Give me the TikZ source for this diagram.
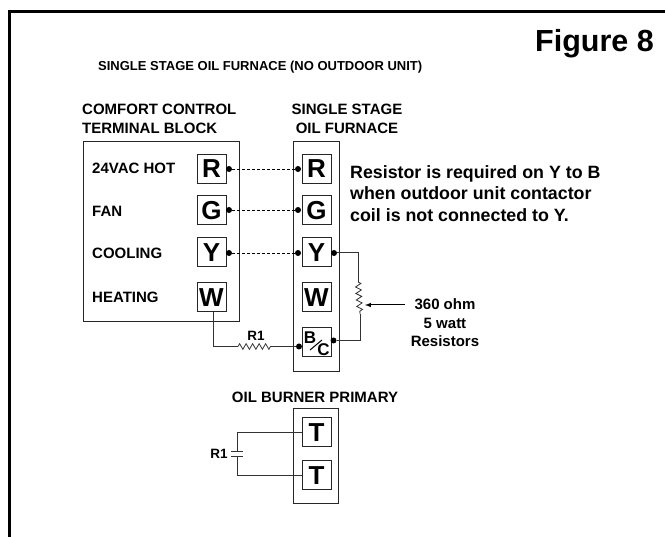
\documentclass[tikz,border=0pt]{standalone}
\usepackage{fontspec}
\setmainfont{Liberation Sans}
\usetikzlibrary{decorations.pathmorphing}
\tikzset{
  boxline/.style={draw=black!85, line width=1pt},
  wire/.style={draw=black!80, line width=1pt},
  jumper/.style={black, line width=0.8pt, densely dashed},
  coil/.style={wire, line width=0.8pt, decorate, decoration={zigzag, amplitude=2.8pt, segment length=6.5pt}},
  terminal/.style={boxline, fill=white, minimum size=29pt, inner sep=0pt, font=\fontsize{26}{26}\selectfont\bfseries},
  lbl/.style={inner sep=0pt, font=\fontsize{15}{18.5}\selectfont\bfseries},
  smallletter/.style={inner sep=0pt, font=\fontsize{17}{17}\selectfont\bfseries},
  dot/.style={circle, fill=black, inner sep=0pt, minimum size=6pt}
}
\begin{document}
\begin{tikzpicture}[x=1pt, y=-1pt]
  \useasboundingbox (0,0) rectangle (665,537);
  % outer frame
  \coordinate (framestart) at (9.5,537);
  \coordinate (framecorner) at (9.5,11.5);
  \coordinate (frameend) at (665,11.5);
  \draw[black, line width=3pt] (framestart) -- (framecorner) -- (frameend);

  % titles
  \node[lbl, anchor=base east, font=\fontsize{30.5}{32}\selectfont\bfseries] (figtitle) at (654,52) {Figure 8};
  \node[lbl, anchor=base west, font=\fontsize{13}{14}\selectfont\bfseries] (subtitle) at (98,70.5) {SINGLE STAGE OIL FURNACE (NO OUTDOOR UNIT)};
  \node[lbl, anchor=north west, align=left] (blocktitle) at (82,104) {COMFORT CONTROL\\TERMINAL BLOCK};
  \node[lbl, anchor=north, align=center] (furnacetitle) at (347,104) {SINGLE STAGE\\OIL FURNACE};

  % terminal block
  \node[boxline, minimum width=156pt, minimum height=180pt, inner sep=0pt] (block) at (161,232) {};
  \node[terminal] (bR) at (211.5,169) {R};
  \node[terminal] (bG) at (211.5,210.5) {G};
  \node[terminal] (bY) at (211.5,252.5) {Y};
  \node[terminal] (bW) at (211.5,297.5) {W};
  \node[lbl, anchor=west] (hot) at (92,168) {24VAC HOT};
  \node[lbl, anchor=west] (fan) at (92,211) {FAN};
  \node[lbl, anchor=west] (cool) at (92,253) {COOLING};
  \node[lbl, anchor=west] (heat) at (92,297) {HEATING};

  % furnace
  \node[boxline, minimum width=46pt, minimum height=230pt, inner sep=0pt] (furnace) at (316,257) {};
  \node[terminal] (fR) at (316.5,169) {R};
  \node[terminal] (fG) at (316.5,210.5) {G};
  \node[terminal] (fY) at (316.5,252.5) {Y};
  \node[terminal] (fW) at (316.5,297.5) {W};
  \node[terminal] (fB) at (316.5,342.5) {};
  \node[smallletter] (letB) at (310,337.5) {B};
  \node[smallletter] (letC) at (323.5,350) {C};
  \coordinate (slasha) at (310,350);
  \coordinate (slashb) at (322,340);
  \draw[black, line width=1pt] (slasha) -- (slashb);

  % dots
  \node[dot] (dR1) at (229,169) {};
  \node[dot] (dR2) at (298,169) {};
  \node[dot] (dG1) at (229,210) {};
  \node[dot] (dG2) at (298,210) {};
  \node[dot] (dY1) at (229,253) {};
  \node[dot] (dY2) at (298,253) {};
  \node[dot] (dY3) at (334,253) {};
  \node[dot] (dB1) at (299,346.5) {};
  \node[dot] (dB2) at (333.5,340.5) {};
  \draw[jumper] (dR1) -- (dR2);
  \draw[jumper] (dG1) -- (dG2);
  \draw[jumper] (dY1) -- (dY2);

  % resistor across Y and B
  \coordinate (rtop) at (358,282);
  \coordinate (rbot) at (360,314);
  \coordinate (rmid) at (365,305);
  \draw[wire] (dY3) -| (rtop);
  \draw[coil] (rtop) -- (rbot);
  \draw[wire] (rbot) |- (dB2);
  \node[lbl, align=center] (resistors) at (445,323) {360 ohm\\5 watt\\Resistors};
  \coordinate (arrowstart) at (405,305);
  \draw[black, line width=1pt, -latex] (arrowstart) -- (rmid);

  % R1 from W
  \coordinate (wdrop) at (213,312);
  \coordinate (r1a) at (238,346.5);
  \coordinate (r1b) at (272,346.5);
  \draw[wire] (wdrop) |- (r1a);
  \draw[coil] (r1a) -- (r1b);
  \draw[wire] (r1b) -- (dB1);
  \node[lbl, font=\fontsize{13.5}{14}\selectfont\bfseries] (r1top) at (256,336) {R1};

  % note
  \node[lbl, anchor=north west, align=left, font=\fontsize{17.8}{21.8}\selectfont\bfseries] (note) at (350,165) {Resistor is required on Y to B\\when outdoor unit contactor\\coil is not connected to Y.};

  % oil burner
  \node[lbl] (burnertitle) at (315,397) {OIL BURNER PRIMARY};
  \node[boxline, minimum width=45pt, minimum height=95pt, inner sep=0pt] (burner) at (315.5,456.5) {};
  \node[terminal] (t1) at (316.5,432.5) {T};
  \node[terminal] (t2) at (316.5,475.5) {T};
  \coordinate (cap1) at (237,452);
  \coordinate (cap2) at (237,457);
  \coordinate (cap1l) at (231,452);
  \coordinate (cap1r) at (243,452);
  \coordinate (cap2l) at (231,457);
  \coordinate (cap2r) at (243,457);
  \draw[wire] (t1.west) -| (cap1);
  \draw[wire] (t2.west) -| (cap2);
  \draw[wire] (cap1l) -- (cap1r);
  \draw[wire] (cap2l) -- (cap2r);
  \node[lbl, font=\fontsize{13.5}{14}\selectfont\bfseries] (r1bot) at (219,454) {R1};
\end{tikzpicture}
\end{document}
